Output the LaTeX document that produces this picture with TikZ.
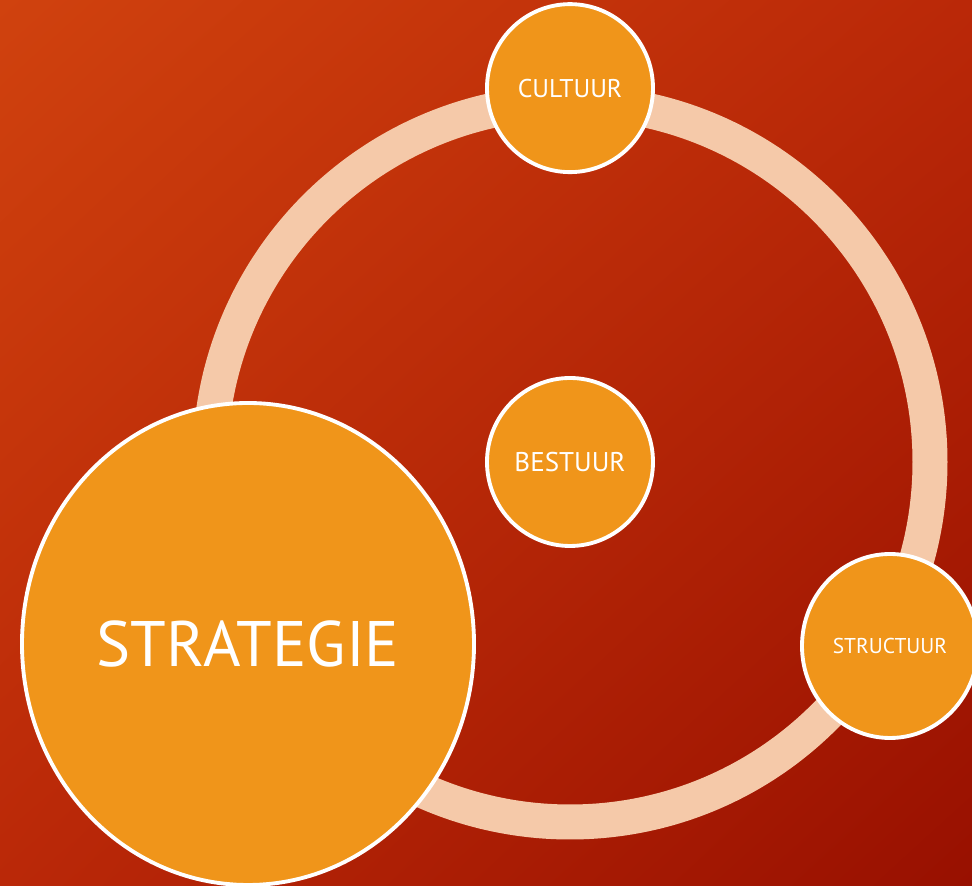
\documentclass[tikz,border=0pt]{standalone}
\usepackage{fontspec}
\setmainfont{PT Sans}
\usepackage{tikz}
\usetikzlibrary{positioning,shapes.geometric,shadings}

\definecolor{bgA}{RGB}{208,66,14}
\definecolor{bgB}{RGB}{186,40,8}
\definecolor{bgC}{RGB}{152,16,0}
\definecolor{blob}{RGB}{240,149,26}
\definecolor{ringc}{RGB}{245,201,169}

\begin{document}
\begin{tikzpicture}[every node/.style={draw=white,line width=1.1pt,fill=blob,
        text=white,ellipse,inner sep=0pt}]
        \shade[upper left=bgA,upper right=bgB,lower left=bgB,lower right=bgC]
            (0,0) rectangle (9.72,8.86);
        \useasboundingbox (0,0) rectangle (9.72,8.86);

        \coordinate (hub) at (5.70,4.24);
        \draw[ringc,line width=0.35cm] (hub) circle (3.6cm);

        \node[minimum width=1.66cm,minimum height=1.68cm] (bestuur) at (hub)
            {\fontsize{7.7}{9}\selectfont BESTUUR};
        \node[minimum width=1.66cm,minimum height=1.68cm,above=2.02cm of bestuur]
            (cultuur) {\fontsize{7.3}{9}\selectfont CULTUUR};
        \node[minimum width=1.76cm,minimum height=1.84cm] (structuur) at (8.90,2.40)
            {\fontsize{6.1}{8}\selectfont STRUCTUUR};
        \node[minimum width=4.52cm,minimum height=4.82cm] (strategie) at (2.48,2.42)
            {\fontsize{18.3}{22}\selectfont STRATEGIE};
\end{tikzpicture}
\end{document}
